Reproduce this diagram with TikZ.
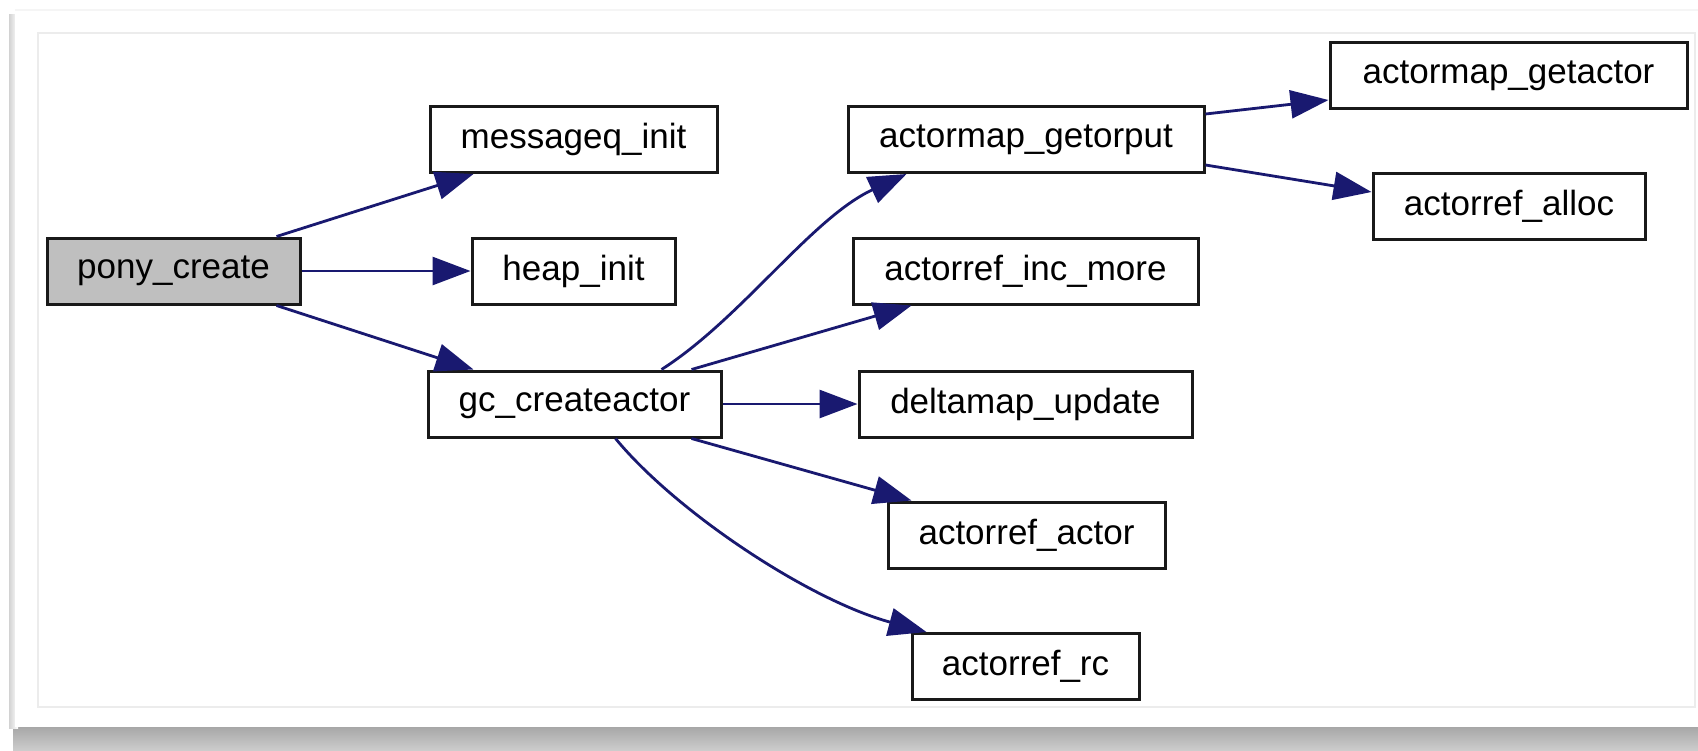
\documentclass[tikz,border=0pt]{standalone}
\usepackage{fontspec}
\setmainfont{Liberation Sans}
\usetikzlibrary{arrows.meta}
\definecolor{edgeblue}{RGB}{25,25,112}
\definecolor{fnfill}{RGB}{191,191,191}
\definecolor{panelline}{RGB}{236,236,236}
\begin{document}
\begin{tikzpicture}[x=1pt,y=-1pt,
  fn/.style={draw=black!90, line width=3pt, fill=white, inner sep=0pt,
    minimum height=66pt, font=\fontsize{35}{42}\selectfont},
  call/.style={draw=edgeblue, line width=2.8pt,
    -{Triangle[length=38pt,width=28pt,fill=edgeblue]}},
]
\useasboundingbox (0,0) rectangle (1698,750);
% card with shadow
\fill[white] (0,0) rectangle (1698,750);
\shade[top color=gray!75, bottom color=gray!40] (13,722) rectangle (1698,750);
\shade[left color=gray!35, right color=white] (9,14) rectangle (18,728);
\fill[white] (15,10) rectangle (1698,727);
\draw[gray!8, line width=1.5pt] (15,10) -- (1698,10);
\draw[panelline, line width=1.5pt] (38,33) rectangle (1695,707);

% nodes
\node[fn, fill=fnfill, minimum width=253pt] (pony) at (173.5,271) {pony\_create};
\node[fn, minimum width=287pt] (msg) at (573.5,139.5) {messageq\_init};
\node[fn, minimum width=203pt] (heap) at (573.5,271) {heap\_init};
\node[fn, minimum width=293pt] (gc) at (574.5,404) {gc\_createactor};
\node[fn, minimum width=356pt] (getorput) at (1026,139.5) {actormap\_getorput};
\node[fn, minimum width=357pt] (getactor) at (1508.5,75.5) {actormap\_getactor};
\node[fn, minimum width=272pt] (alloc) at (1509,206.5) {actorref\_alloc};
\node[fn, minimum width=345pt] (incmore) at (1025.5,271) {actorref\_inc\_more};
\node[fn, minimum width=333pt] (delta) at (1025.5,404) {deltamap\_update};
\node[fn, minimum width=277pt] (actor) at (1026.5,535) {actorref\_actor};
\node[fn, minimum width=227pt] (rc) at (1025.5,666.5) {actorref\_rc};

% connectors
\draw[call] ([xshift=-25pt]pony.north east) -- ([xshift=45pt]msg.south west);
\draw[call] (pony.east) -- (heap.west);
\draw[call] ([xshift=-25pt]pony.south east) -- ([xshift=47pt]gc.north west);
\draw[call] ([xshift=-61pt]gc.north east) .. controls +(80,-51) and +(-95,44) .. ([xshift=60pt]getorput.south west);
\draw[call] ([xshift=-31pt]gc.north east) -- ([xshift=60pt]incmore.south west);
\draw[call] (gc.east) -- (delta.west);
\draw[call] ([xshift=-31pt]gc.south east) -- ([xshift=25pt]actor.north west);
\draw[call] ([xshift=189pt]gc.south west) .. controls +(60,73) and +(-118,-32) .. ([xshift=16pt]rc.north west);
\draw[call] ([yshift=-9pt]getorput.north east) -- ([yshift=10pt]getactor.south west);
\draw[call] ([yshift=9pt]getorput.south east) -- ([yshift=14.5pt]alloc.west);
\end{tikzpicture}
\end{document}
